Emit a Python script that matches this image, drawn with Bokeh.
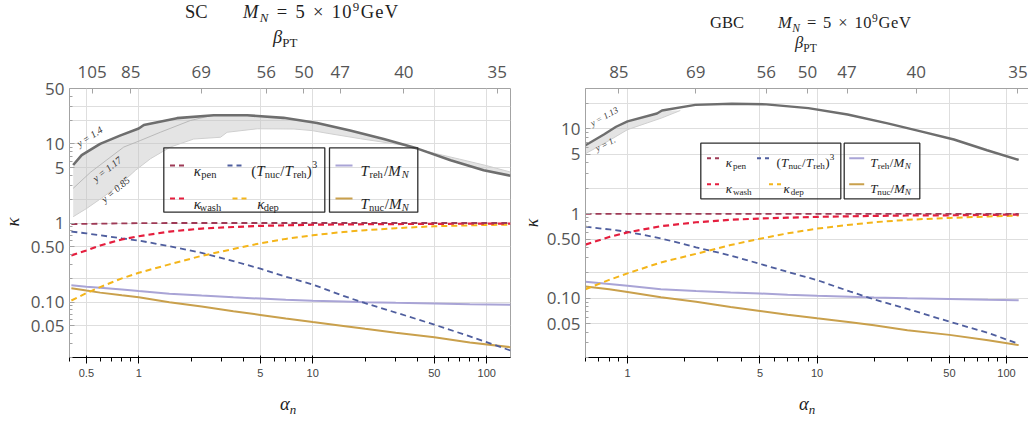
import math
from bokeh.plotting import figure
from bokeh.models import LogAxis, FixedTicker, Label, BoxAnnotation, Arrow, Range1d, Div
from bokeh.layouts import row, column
from bokeh.embed import file_html
from bokeh.resources import INLINE

# ---------------- data: SC panel ----------------
sc_alpha = [0.41, 0.5, 0.6, 0.8, 1.0, 1.5, 2.3, 3.5, 5, 7, 10, 15, 20, 30, 50, 80, 137]
sc_k_pen = [0.97, 0.975, 0.98, 0.99, 0.995, 1.0, 1.0, 1.0, 1.0, 1.0, 1.0, 1.0, 1.0, 1.0, 1.0, 1.0, 1.0]
sc_k_wash = [0.39, 0.45, 0.52, 0.62, 0.68, 0.78, 0.85, 0.89, 0.92, 0.935, 0.95, 0.96, 0.965, 0.97, 0.975, 0.98, 0.98]
sc_t_ratio3 = [0.78, 0.74, 0.70, 0.64, 0.60, 0.51, 0.42, 0.33, 0.265, 0.21, 0.167, 0.12, 0.097, 0.074, 0.052, 0.037, 0.0245]
sc_k_dep = [0.105, 0.13, 0.155, 0.2, 0.235, 0.3, 0.385, 0.47, 0.555, 0.63, 0.70, 0.77, 0.81, 0.86, 0.91, 0.935, 0.955]
sc_t_reh = [0.163, 0.157, 0.152, 0.145, 0.138, 0.128, 0.121, 0.115, 0.111, 0.107, 0.104, 0.102, 0.1, 0.098, 0.096, 0.094, 0.093]
sc_t_nuc = [0.15, 0.14, 0.132, 0.122, 0.115, 0.1, 0.088, 0.077, 0.069, 0.062, 0.056, 0.05, 0.046, 0.041, 0.036, 0.031, 0.027]

sc_y14_alpha = [0.42, 0.47, 0.6, 0.78, 1.0, 1.07, 1.66, 2.7, 4.2, 6.8, 10.6, 16.4, 25.6, 40, 62, 96, 137]
sc_y14_kappa = [5.4, 7.2, 10.0, 12.7, 15.6, 17.3, 21.1, 23.0, 23.0, 21.3, 18.3, 14.7, 11.5, 8.7, 6.2, 4.65, 3.95]
sc_y117_alpha = [0.42, 0.53, 0.82, 1.02, 1.33, 1.98, 2.6]
sc_y117_kappa = [2.74, 4.4, 9.1, 11.0, 14.0, 19.7, 22.7]
sc_y085_alpha = [0.42, 0.505, 0.63, 0.77, 0.96, 1.17, 1.52, 2.07, 2.95, 3.22, 4.8, 7.8, 9.9, 12.1, 18.8, 33.3, 50, 70, 100, 137]
sc_y085_kappa = [1.2, 1.54, 2.16, 3.0, 4.65, 6.5, 9.1, 11.5, 12.1, 14.0, 15.5, 15.4, 14.7, 13.6, 11.6, 9.6, 7.6, 6.4, 5.3, 4.4]

# ---------------- data: GBC panel ----------------
gbc_alpha = [0.6, 0.8, 1.0, 1.5, 2.3, 3.5, 5, 7, 10, 15, 20, 30, 50, 80, 116]
gbc_k_pen = [0.995, 0.995, 0.995, 0.995, 0.995, 0.995, 0.995, 0.995, 0.995, 0.995, 0.995, 0.995, 0.995, 0.995, 0.995]
gbc_k_wash = [0.43, 0.53, 0.60, 0.71, 0.79, 0.845, 0.875, 0.895, 0.915, 0.93, 0.94, 0.95, 0.955, 0.965, 0.975]
gbc_t_ratio3 = [0.70, 0.65, 0.61, 0.51, 0.40, 0.32, 0.255, 0.205, 0.164, 0.12, 0.097, 0.075, 0.053, 0.039, 0.029]
gbc_k_dep = [0.128, 0.165, 0.197, 0.265, 0.335, 0.425, 0.505, 0.585, 0.665, 0.74, 0.79, 0.845, 0.89, 0.925, 0.95]
gbc_t_reh = [0.157, 0.148, 0.141, 0.128, 0.122, 0.117, 0.114, 0.11, 0.107, 0.104, 0.102, 0.1, 0.098, 0.096, 0.095]
gbc_t_nuc = [0.138, 0.128, 0.119, 0.103, 0.091, 0.079, 0.071, 0.064, 0.058, 0.052, 0.048, 0.042, 0.037, 0.032, 0.028]

gbc_y113_alpha = [0.6, 0.75, 0.87, 1.0, 1.43, 1.52, 2.28, 3.55, 5.4, 9.0, 14.5, 23.6, 35.3, 52.8, 79, 116]
gbc_y113_kappa = [6.4, 8.6, 10.6, 12.3, 15.2, 16.5, 19.2, 19.8, 19.5, 17.6, 14.8, 11.6, 9.36, 7.5, 5.6, 4.3]
gbc_y1_alpha = [0.6, 0.8, 1.0, 1.52, 1.9]
gbc_y1_kappa = [5.1, 7.3, 9.8, 13.5, 16.5]

# ---------------- ticks ----------------
x_major_ticks = [0.5, 1, 5, 10, 50, 100]
x_major_labels = ["0.5", "1", "5", "10", "50", "100"]
x_minor_ticks = [0.4, 0.6, 0.7, 0.8, 0.9, 2, 3, 4, 6, 7, 8, 9, 20, 30, 40, 60, 70, 80, 90]
y_major_ticks = [0.05, 0.1, 0.5, 1, 5, 10, 50]
y_major_labels = ["0.05", "0.10", "0.50", "1", "5", "10", "50"]
y_minor_ticks = [0.02, 0.03, 0.04, 0.06, 0.07, 0.08, 0.09, 0.2, 0.3, 0.4, 0.6, 0.7, 0.8, 0.9,
                 2, 3, 4, 6, 7, 8, 9, 20, 30, 40]
y_grid_ticks = [0.05, 0.1, 0.2, 0.5, 1, 2, 5, 10, 20, 30]
beta_alpha = [0.54, 0.9, 2.29, 5.4, 8.9, 14.4, 33.4, 115]
beta_labels = ["105", "85", "69", "56", "50", "47", "40", "35"]

C_PEN = "#9E3A56"
C_WASH = "#E51E3E"
C_RATIO = "#4F5E9E"
C_DEP = "#F4B51A"
C_REH = "#A9A4D6"
C_NUC = "#C9A04C"
C_BAND = "#6E6E6E"
FRAME = "#A3A3A3"
TICKTXT = "#555555"
SERIF = "Liberation Serif"
SANS = "Open Sans"
TXT = "#1E1E1E"

ROMAN = {'S': .556, 'C': .667, 'G': .722, 'B': .667, 'e': .444, 'V': .722, 'P': .556, 'T': .611,
         'p': .5, 'n': .5, 'w': .722, 'a': .444, 's': .389, 'h': .5, 'd': .5, 'u': .5, 'c': .444,
         'r': .333, '(': .333, ')': .333, '/': .278, '=': .564, '\u00d7': .564, ' ': .25, '.': .25}
ITALIC = {'M': .833, 'N': .667, 'T': .556, '\u03ba': .55, '\u03b1': .56, '\u03b2': .52, 'y': .444, 'n': .5}


def wid(s, table):
    return sum(table.get(c, 0.5) for c in s)


def lab(fig, geo, x, y, text, size, style="normal", color=TXT, font=SERIF,
        align="left", baseline="alphabetic", angle=0.0):
    fl, fb = geo
    fig.add_layout(Label(x=x - fl, y=fb - y, x_units="screen", y_units="screen", text=text,
                         text_font=font, text_font_size=f"{size:.1f}px", text_font_style=style,
                         text_color=color, text_align=align, text_baseline=baseline, angle=angle))


def math_text(fig, geo, x0, base, pieces, size, target=None, color=TXT):
    items = []
    cur = 0.0
    for txt, role in pieces:
        if role in ("i", "r"):
            fs, dy = size, 0.0
        elif role.startswith("sub"):
            fs, dy = size * 0.7, 0.24 * size
        else:
            fs, dy = size * 0.7, -0.40 * size
        ital = role in ("i", "sub_i")
        w = wid(txt, ITALIC if ital else ROMAN) * fs
        items.append((cur, txt, fs, dy, ital, w))
        cur += w
    s = 1.0
    if target is not None and len(items) > 1:
        wl = items[-1][5]
        s = (target - wl) / (cur - wl)
    for off, txt, fs, dy, ital, w in items:
        lab(fig, geo, x0 + s * off, base + dy, txt, fs, style="italic" if ital else "normal", color=color)


def seg(fig, geo, x1, x2, y, color, dash, width):
    fl, fb = geo
    fig.add_layout(Arrow(end=None, x_start=x1 - fl, x_end=x2 - fl, y_start=fb - y, y_end=fb - y,
                         start_units="screen", end_units="screen", line_color=color,
                         line_dash=dash, line_width=width))


def box(fig, geo, x1, y1, x2, y2):
    fl, fb = geo
    fig.add_layout(BoxAnnotation(left=x1 - fl, right=x2 - fl, top=fb - y1, bottom=fb - y2,
                                 left_units="screen", right_units="screen", top_units="screen",
                                 bottom_units="screen", fill_alpha=0.0, line_color="#2E2E2E",
                                 line_width=1.3, line_alpha=1.0))


def make_fig(width, height, xr, yr, mbl, mbr, mbt, mbb, bottom_standoff, top_standoff, closed):
    p = figure(width=width, height=height, x_axis_type="log", y_axis_type="log",
               x_range=Range1d(*xr), y_range=Range1d(*yr), output_backend="svg",
               toolbar_location=None, min_border_left=mbl, min_border_right=mbr,
               min_border_top=mbt, min_border_bottom=mbb)
    p.outline_line_color = FRAME if closed else None
    p.outline_line_width = 1
    p.background_fill_color = "white"
    p.border_fill_color = "white"
    p.xaxis.ticker = FixedTicker(ticks=x_major_ticks, minor_ticks=x_minor_ticks)
    p.xaxis.major_label_overrides = dict(zip(x_major_ticks, x_major_labels))
    p.yaxis.ticker = FixedTicker(ticks=y_major_ticks, minor_ticks=y_minor_ticks)
    p.yaxis.major_label_overrides = dict(zip(y_major_ticks, y_major_labels))
    top = LogAxis(ticker=FixedTicker(ticks=beta_alpha, minor_ticks=[]),
                  major_label_overrides=dict(zip(beta_alpha, beta_labels)))
    p.add_layout(top, "above")
    for ax in (p.xaxis[0], p.yaxis[0], top):
        ax.axis_line_color = None if closed else FRAME
        ax.major_tick_line_color = FRAME
        ax.minor_tick_line_color = FRAME
        ax.major_tick_in = 5
        ax.major_tick_out = 0
        ax.minor_tick_in = 3
        ax.minor_tick_out = 0
        ax.major_label_text_font = SANS
        ax.major_label_text_font_size = "17px"
        ax.major_label_text_color = TICKTXT
    p.xaxis[0].major_label_standoff = bottom_standoff
    p.yaxis[0].major_label_standoff = 5
    top.major_label_standoff = top_standoff
    p.xgrid.ticker = FixedTicker(ticks=x_major_ticks)
    p.ygrid.ticker = FixedTicker(ticks=y_grid_ticks)
    p.xgrid.grid_line_color = "#DEDEDE"
    p.ygrid.grid_line_color = "#DEDEDE"
    return p


def draw_curves(p, alpha, pen, wash, ratio, dep, reh, nuc):
    p.line(alpha, reh, line_color=C_REH, line_width=2)
    p.line(alpha, nuc, line_color=C_NUC, line_width=2)
    p.line(alpha, ratio, line_color=C_RATIO, line_width=1.8, line_dash="6 4")
    p.line(alpha, dep, line_color=C_DEP, line_width=2, line_dash="6 4")
    p.line(alpha, wash, line_color=C_WASH, line_width=2.2, line_dash="6 4")
    p.line(alpha, pen, line_color=C_PEN, line_width=1.8, line_dash="6 4")


# ---------------- html helpers for texts outside the plot frames ----------------
def I(t):
    return f"<i>{t}</i>"


def SUB(t):
    return f'<span style="font-size:70%;position:relative;top:0.34em">{t}</span>'


def SUP(t):
    return f'<span style="font-size:70%;position:relative;top:-0.5em;line-height:1">{t}</span>'


def OP(t):
    return f'<span style="margin:0 0.38em">{t}</span>'


def span(x, base, size, html, spacing=0.0):
    top = base - 0.84 * size
    return (f'<span style="position:absolute;left:{x}px;top:{top:.1f}px;font-family:\'Liberation Serif\',serif;'
            f'font-size:{size}px;line-height:1;white-space:nowrap;letter-spacing:{spacing}px;color:{TXT}">{html}</span>')


def rot_span(x, y, size, html):
    return (f'<span style="position:absolute;left:{x}px;top:{y}px;transform:translate(-50%,-50%) rotate(-90deg);'
            f'font-family:\'Liberation Serif\',serif;font-style:italic;font-size:{size}px;line-height:1;'
            f'white-space:nowrap;color:{TXT}">{html}</span>')


def box_div(width, height, inner):
    return Div(text=f'<div style="position:relative;width:{width}px;height:{height}px;overflow:visible">{inner}</div>',
               width=width, height=height, margin=0)


MN_TEXT = I("M") + SUB(I("N")) + OP("=") + "5" + OP("\u00d7") + "10" + SUP("9") + "GeV"
title_html = "".join([
    span(185, 18, 18.5, "SC"),
    span(243, 18, 18.5, MN_TEXT, spacing=1.3),
    span(273, 43, 18.5, I("\u03b2") + SUB("PT")),
    span(710, 28.5, 16.5, "GBC"),
    span(778, 28.5, 16.5, MN_TEXT, spacing=0.6),
    span(795, 49, 16.5, I("\u03b2") + SUB("PT")),
])
top_div = box_div(1028, 52, title_html)
k1_div = box_div(24, 343, rot_span(12, 170, 19, "\u03ba"))
k2_div = box_div(25, 343, rot_span(14, 171, 18, "\u03ba"))
bottom_div = box_div(1028, 28, span(280, 15.5, 18.5, I("\u03b1") + SUB(I("n"))) +
                     span(799, 15.5, 18.5, I("\u03b1") + SUB(I("n"))))

# ======================= left panel (SC) =======================
p1 = make_fig(494, 343, (0.4, 137), (0.02, 50), 45, 8, 33, 38, -3, 11, True)
G1 = (69, 357)
p1.patch(sc_y14_alpha + sc_y085_alpha[::-1], sc_y14_kappa + sc_y085_kappa[::-1],
         fill_color="#C4C4C4", fill_alpha=0.45, line_color=None)
p1.line(sc_y085_alpha, sc_y085_kappa, line_color="#CFCFCF", line_width=1)
p1.line(sc_y117_alpha, sc_y117_kappa, line_color="#B4B4B4", line_width=0.9)
p1.line(sc_y14_alpha, sc_y14_kappa, line_color=C_BAND, line_width=2.6)
draw_curves(p1, sc_alpha, sc_k_pen, sc_k_wash, sc_t_ratio3, sc_k_dep, sc_t_reh, sc_t_nuc)

lab(p1, G1, 89, 136, "y = 1.4", 10, style="italic", color="#333333", align="center",
    baseline="middle", angle=math.radians(33))
lab(p1, G1, 106.5, 168.5, "y = 1.17", 10, style="italic", color="#333333", align="center",
    baseline="middle", angle=math.radians(38))
lab(p1, G1, 115, 189, "y = 0.85", 10, style="italic", color="#333333", align="center",
    baseline="middle", angle=math.radians(40))

box(p1, G1, 163.3, 147.3, 324.3, 211.7)
box(p1, G1, 329, 147.3, 417.3, 211.7)
seg(p1, G1, 169.5, 183.5, 165, C_PEN, "5 4", 2)
seg(p1, G1, 227, 241, 165, C_RATIO, "5 4", 2)
seg(p1, G1, 169.5, 183.5, 198, C_WASH, "5 4", 2)
seg(p1, G1, 232, 246, 198, C_DEP, "5 4", 2)
seg(p1, G1, 335, 352, 165, C_REH, "solid", 2)
seg(p1, G1, 335, 352, 198, C_NUC, "solid", 2)
math_text(p1, G1, 193.3, 170, [("\u03ba", "i"), ("pen", "sub_r")], 15, target=22.7)
math_text(p1, G1, 250.7, 170, [("(", "r"), ("T", "i"), ("nuc", "sub_r"), ("/", "r"), ("T", "i"),
                               ("reh", "sub_r"), (")", "r"), ("3", "sup_r")], 15, target=66)
math_text(p1, G1, 193.3, 203, [("\u03ba", "i"), ("wash", "sub_r")], 15, target=27.4)
math_text(p1, G1, 256.7, 203, [("\u03ba", "i"), ("dep", "sub_r")], 15, target=21.6)
math_text(p1, G1, 360, 170, [("T", "i"), ("reh", "sub_r"), ("/", "r"), ("M", "i"), ("N", "sub_i")], 15, target=48.3)
math_text(p1, G1, 360, 203, [("T", "i"), ("nuc", "sub_r"), ("/", "r"), ("M", "i"), ("N", "sub_i")], 15, target=48.3)

# ======================= right panel (GBC) =======================
p2 = make_fig(485, 343, (0.6, 130.7), (0.02, 30), 40, 0, 36, 29, -4, 11, False)
G2 = (583, 366)
p2.patch(gbc_y113_alpha[:6] + gbc_y1_alpha[::-1], gbc_y113_kappa[:6] + gbc_y1_kappa[::-1],
         fill_color="#C4C4C4", fill_alpha=0.45, line_color=None)
p2.line(gbc_y1_alpha, gbc_y1_kappa, line_color="#CFCFCF", line_width=1)
p2.line(gbc_y113_alpha, gbc_y113_kappa, line_color=C_BAND, line_width=2.4)
draw_curves(p2, gbc_alpha, gbc_k_pen, gbc_k_wash, gbc_t_ratio3, gbc_k_dep, gbc_t_reh, gbc_t_nuc)

lab(p2, G2, 601.7, 125, "y = 1.13", 9, style="italic", color="#333333", align="center",
    baseline="middle", angle=math.radians(29))
lab(p2, G2, 603, 152.5, "y = 1.", 9, style="italic", color="#333333", align="center",
    baseline="middle", angle=math.radians(27))

box(p2, G2, 698.3, 151.7, 838.3, 207.3)
box(p2, G2, 841.7, 151.7, 917.3, 207.3)
seg(p2, G2, 704.5, 717, 166.7, C_PEN, "4 4", 2)
seg(p2, G2, 754.5, 767, 166.7, C_RATIO, "4 4", 2)
seg(p2, G2, 704.5, 717, 192.7, C_WASH, "4 4", 2)
seg(p2, G2, 766.5, 779, 192.7, C_DEP, "4 4", 2)
seg(p2, G2, 846.7, 861.7, 166.7, C_REH, "solid", 2)
seg(p2, G2, 846.7, 861.7, 192.7, C_NUC, "solid", 2)
math_text(p2, G2, 723.3, 171, [("\u03ba", "i"), ("pen", "sub_r")], 13)
math_text(p2, G2, 774, 171, [("(", "r"), ("T", "i"), ("nuc", "sub_r"), ("/", "r"), ("T", "i"),
                             ("reh", "sub_r"), (")", "r"), ("3", "sup_r")], 13, target=57.7)
math_text(p2, G2, 723.3, 197, [("\u03ba", "i"), ("wash", "sub_r")], 13)
math_text(p2, G2, 781, 197, [("\u03ba", "i"), ("dep", "sub_r")], 13)
math_text(p2, G2, 867.7, 171, [("T", "i"), ("reh", "sub_r"), ("/", "r"), ("M", "i"), ("N", "sub_i")], 13, target=40.6)
math_text(p2, G2, 867.7, 197, [("T", "i"), ("nuc", "sub_r"), ("/", "r"), ("M", "i"), ("N", "sub_i")], 13, target=40.6)

layout = column(top_div, row(k1_div, p1, k2_div, p2, spacing=0), bottom_div, spacing=0)
open("out.html", "w").write(file_html(layout, INLINE))
